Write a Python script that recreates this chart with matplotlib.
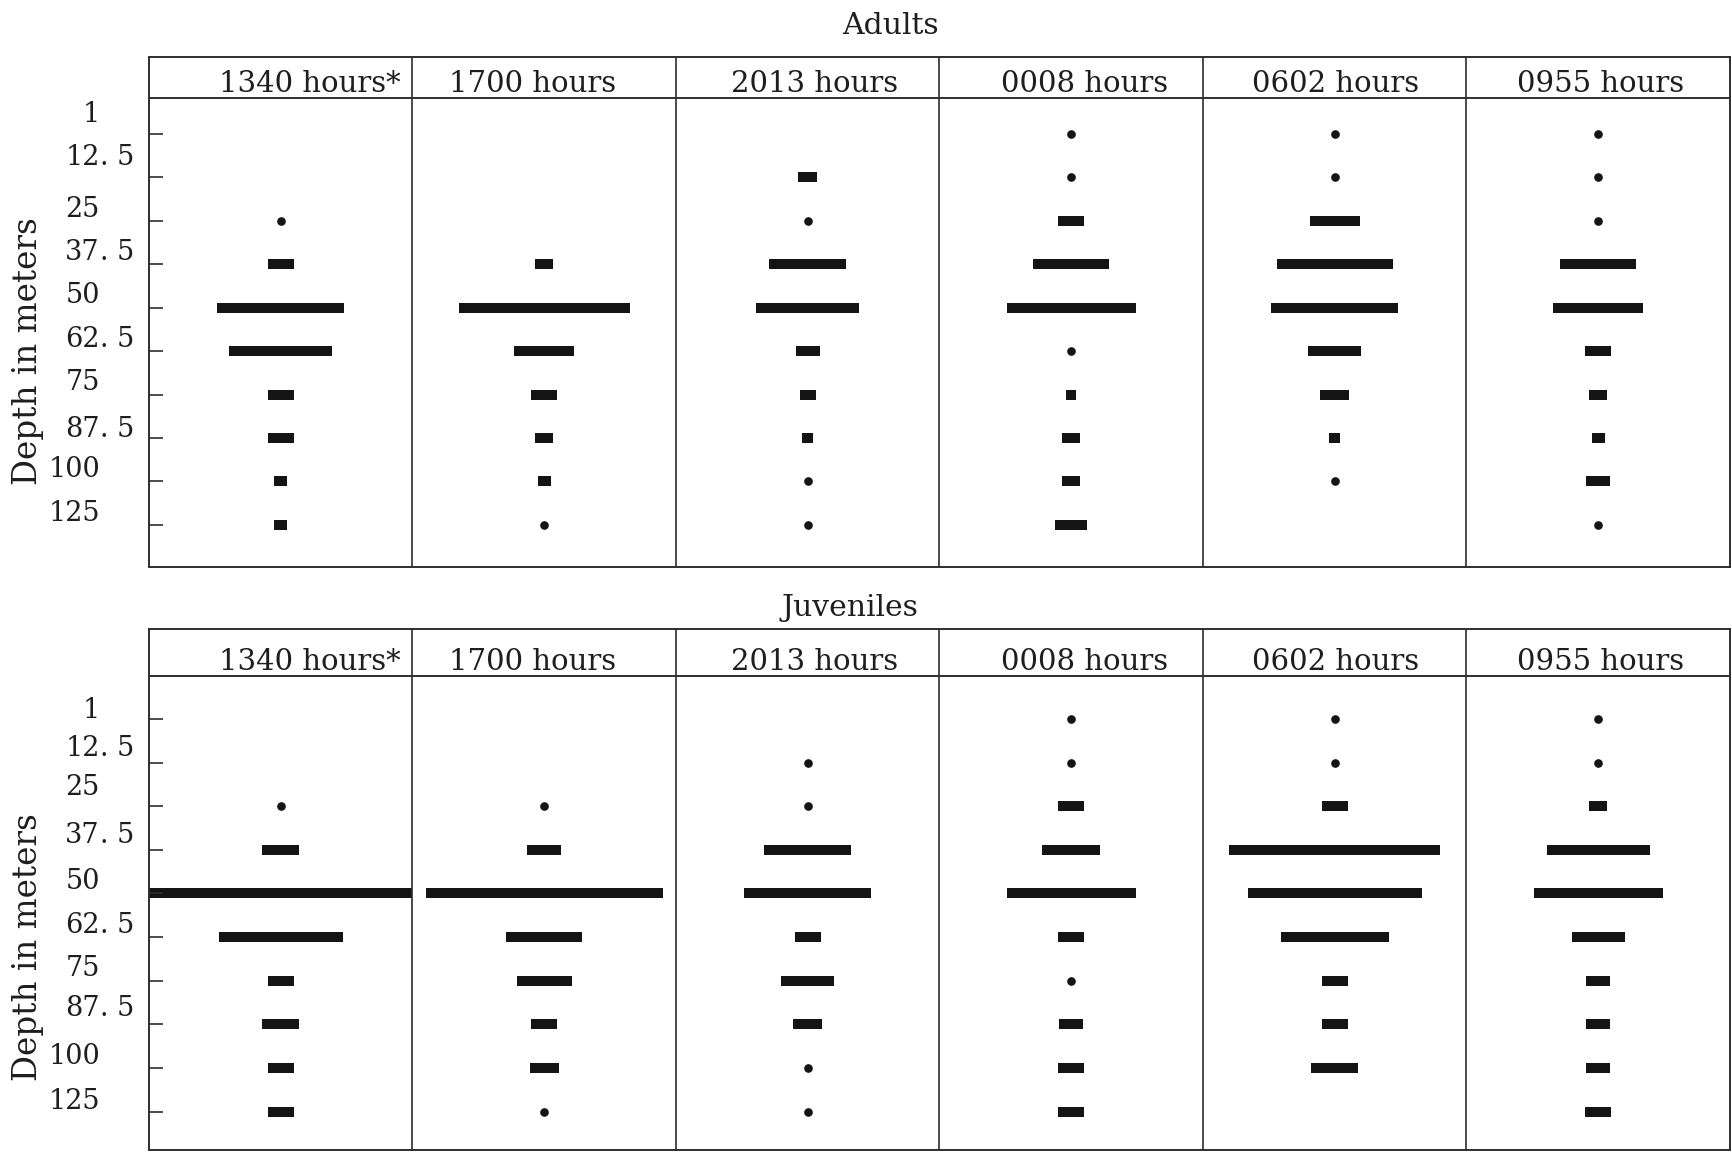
import matplotlib.pyplot as plt
from matplotlib.transforms import offset_copy

plt.rcParams['font.family'] = 'DejaVu Serif'

times = ["1340 hours*", "1700 hours", "2013 hours", "0008 hours", "0602 hours", "0955 hours"]
depth_labels = ["1", "12. 5", "25", "37. 5", "50", "62. 5", "75", "87. 5", "100", "125"]

# bar length at each depth as percent of a column's width
# 0 = trace (drawn as a dot), None = nothing taken
adults_1340 = [None, None, 0, 10, 48, 39, 10, 10, 5, 5]
adults_1700 = [None, None, None, 7, 65, 23, 10, 7, 5, 0]
adults_2013 = [None, 7, 0, 29, 39, 9, 6, 4, 0, 0]
adults_0008 = [0, 0, 10, 29, 49, 0, 4, 7, 7, 12]
adults_0602 = [0, 0, 19, 44, 48, 20, 11, 4, 0, None]
adults_0955 = [0, 0, 0, 29, 34, 10, 7, 5, 9, 0]

juveniles_1340 = [None, None, 0, 14, 100, 47, 10, 14, 10, 10]
juveniles_1700 = [None, None, 0, 13, 90, 29, 21, 10, 11, 0]
juveniles_2013 = [None, 0, 0, 33, 48, 10, 20, 11, 0, 0]
juveniles_0008 = [0, 0, 10, 22, 49, 10, 0, 9, 10, 10]
juveniles_0602 = [0, 0, 10, 80, 66, 41, 10, 10, 18, None]
juveniles_0955 = [0, 0, 7, 39, 49, 20, 9, 9, 9, 10]

adults = [adults_1340, adults_1700, adults_2013, adults_0008, adults_0602, adults_0955]
juveniles = [juveniles_1340, juveniles_1700, juveniles_2013, juveniles_0008, juveniles_0602, juveniles_0955]

INK = '#141414'
LINE = '#2e2e2e'
TXT = '#1e1e1e'
header_nudge = [0.11, -0.045, 0.025, 0.05, 0.004, 0.01]

fig = plt.figure(figsize=(17.32, 11.56), dpi=100)


def draw_panel(ax, columns, ylim, header_y, label_lift):
    ax.set_xlim(0, len(columns))
    ax.set_ylim(*ylim)
    for sp in ax.spines.values():
        sp.set_linewidth(1.4)
        sp.set_color(LINE)
    ax.set_xticks([])
    ax.set_yticks(range(len(depth_labels)))
    ax.tick_params(axis='y', direction='in', length=10, width=1.2,
                   color=LINE, labelleft=False)

    for i in range(1, len(columns)):
        ax.axvline(i, color=LINE, lw=1.2)
    ax.axhline(header_y, color=LINE, lw=1.4)

    head_tr = offset_copy(ax.transData, fig=fig, y=6, units='dots')
    for i, name in enumerate(times):
        ax.text(i + 0.5 + header_nudge[i], header_y, name, ha='center',
                va='baseline', fontsize=21, color=TXT, transform=head_tr)

    for i, col in enumerate(columns):
        cx = i + 0.5
        for row, v in enumerate(col):
            if v is None:
                continue
            if v == 0:
                ax.plot(cx, row, 'o', ms=5.2, color=INK)
            else:
                w = v / 100
                ax.barh(row, w, left=cx - w / 2, height=0.23, color=INK)

    # depth labels, lined up on the decimal point
    ytr = ax.get_yaxis_transform()
    for row, lab in enumerate(depth_labels):
        y = row - 0.27 - label_lift[row]
        parts = lab.split('.')
        ax.text(-0.031, y, parts[0], ha='right', va='center',
                fontsize=19.5, color=TXT, transform=ytr, clip_on=False)
        if len(parts) > 1:
            ax.text(-0.031, y, '.' + parts[1], ha='left', va='center',
                    fontsize=19.5, color=TXT, transform=ytr, clip_on=False)


ax_top = fig.add_axes([0.0860, 0.5095, 0.9128, 0.4412])
draw_panel(ax_top, adults, (9.97, -1.77), -0.83,
           [0.18, 0.18, 0, 0, 0, 0, 0, -0.08, 0, 0])

ax_bot = fig.add_axes([0.0860, 0.0052, 0.9128, 0.4507])
draw_panel(ax_bot, juveniles, (9.88, -2.06), -0.99,
           [-0.08, 0.06, 0.15, 0.05, 0, 0, 0, 0.1, 0, -0.05])

fig.text(890 / 1732, 1 - 34 / 1156, "Adults", ha='center', va='baseline',
         fontsize=21.5, color=TXT)
fig.text(850 / 1732, 1 - 616 / 1156, "Juveniles", ha='center', va='baseline',
         fontsize=21.5, color=TXT)
fig.text(28 / 1732, 1 - 351 / 1156, "Depth in meters", rotation=90,
         ha='center', va='center', fontsize=23.5, color=TXT)
fig.text(28 / 1732, 1 - 947 / 1156, "Depth in meters", rotation=90,
         ha='center', va='center', fontsize=23.5, color=TXT)

fig.savefig('out.png', dpi=100)
